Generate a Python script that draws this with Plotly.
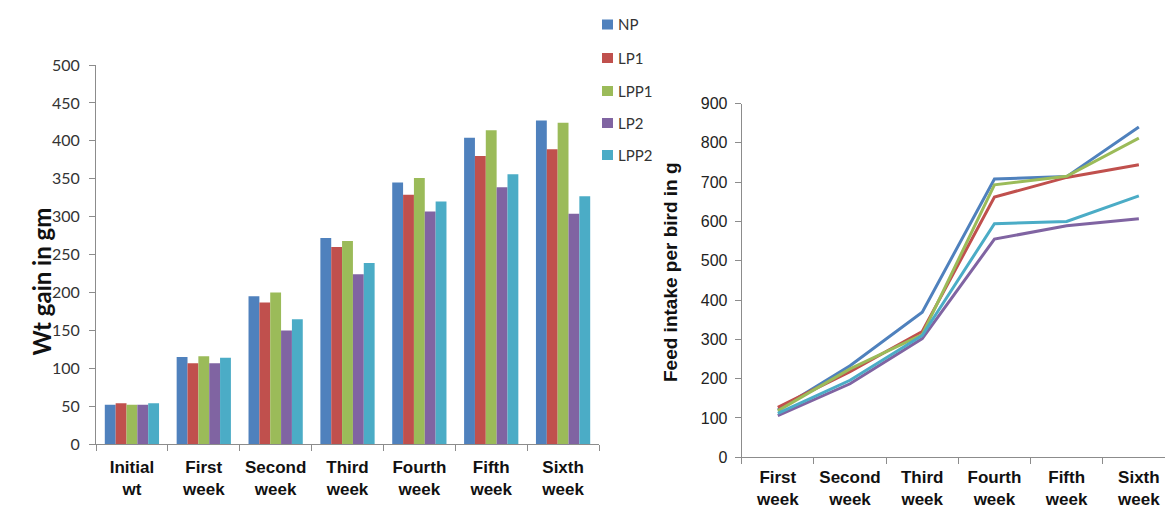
import plotly.graph_objects as go

# ---- data ----
series_names = ["NP", "LP1", "LPP1", "LP2", "LPP2"]
series_colors = ["#4F81BD", "#C0504D", "#9BBB59", "#8064A2", "#4BACC6"]

gain_categories = ["Initial<br>wt", "First<br>week", "Second<br>week", "Third<br>week",
                   "Fourth<br>week", "Fifth<br>week", "Sixth<br>week"]
gain_np = [52, 115, 195, 272, 345, 404, 427]
gain_lp1 = [54, 107, 187, 260, 329, 380, 389]
gain_lpp1 = [52, 116, 200, 268, 351, 414, 424]
gain_lp2 = [52, 107, 150, 224, 307, 339, 304]
gain_lpp2 = [54, 114, 165, 239, 320, 356, 327]

feed_categories = ["First<br>week", "Second<br>week", "Third<br>week",
                   "Fourth<br>week", "Fifth<br>week", "Sixth<br>week"]
feed_np = [120, 233, 369, 708, 714, 840]
feed_lp1 = [127, 218, 320, 662, 712, 744]
feed_lpp1 = [118, 225, 312, 693, 715, 812]
feed_lp2 = [106, 187, 302, 555, 589, 607]
feed_lpp2 = [112, 196, 310, 594, 600, 665]

gain_values = [gain_np, gain_lp1, gain_lpp1, gain_lp2, gain_lpp2]
feed_values = [feed_np, feed_lp1, feed_lpp1, feed_lp2, feed_lpp2]

W, H = 1165, 509


def px_x(p):
    return p / W


def px_y(p):
    return (H - p) / H


fig = go.Figure()

# grouped bars: weight gain
for name, color, vals in zip(series_names, series_colors, gain_values):
    fig.add_trace(go.Bar(x=gain_categories, y=vals, name=name, marker_color=color,
                         marker_line_width=0, xaxis="x", yaxis="y", showlegend=False))

# lines: feed intake
for name, color, vals in zip(series_names, series_colors, feed_values):
    fig.add_trace(go.Scatter(x=feed_categories, y=vals, name=name, mode="lines",
                             line=dict(color=color, width=3), xaxis="x2", yaxis="y2",
                             showlegend=False))

axis_gray = "#8C8C8C"
tick_font_left = dict(family="Lato, Open Sans, sans-serif", size=16, color="#333333")
tick_font_right = dict(family="Liberation Sans, Arial, sans-serif", size=16, color="#222222")
cat_font = dict(family="Liberation Sans, Arial, sans-serif", size=17, color="#111111")

fig.update_layout(
    width=W, height=H,
    margin=dict(l=0, r=0, t=0, b=0, pad=0, autoexpand=False),
    paper_bgcolor="white", plot_bgcolor="white",
    showlegend=False,
    barmode="group", bargap=0.245, bargroupgap=0,
    xaxis=dict(domain=[px_x(96), px_x(599)], type="category",
               showline=True, linecolor=axis_gray, linewidth=1,
               ticks="outside", tickson="boundaries", ticklen=6, tickcolor=axis_gray,
               showgrid=False, tickfont=cat_font, tickprefix="<b>", ticksuffix="</b>",
               ticklabelstandoff=7, automargin=False, anchor="y"),
    yaxis=dict(domain=[px_y(444.3), px_y(65)], range=[0, 500], dtick=50,
               showline=True, linecolor=axis_gray, linewidth=1,
               ticks="outside", ticklen=6, tickcolor=axis_gray,
               showgrid=False, zeroline=False, tickfont=tick_font_left,
               ticklabelstandoff=6, automargin=False, anchor="x"),
    xaxis2=dict(domain=[px_x(741.7), 1.0], type="category", range=[-0.5, 5.362],
                showline=True, linecolor=axis_gray, linewidth=1,
                ticks="outside", tickson="boundaries", ticklen=6, tickcolor=axis_gray,
                showgrid=False, tickfont=cat_font, tickprefix="<b>", ticksuffix="</b>",
                ticklabelstandoff=4, automargin=False, anchor="y2"),
    yaxis2=dict(domain=[px_y(457.3), px_y(103.5)], range=[0, 900], dtick=100,
                showline=True, linecolor=axis_gray, linewidth=1,
                ticks="outside", ticklen=6, tickcolor=axis_gray,
                showgrid=False, zeroline=False, tickfont=tick_font_right,
                ticklabelstandoff=4, automargin=False, anchor="x2"),
)

# axis titles
fig.add_annotation(text="<b>Wt gain in gm</b>", textangle=-90, xref="paper", yref="paper",
                   x=px_x(24), y=px_y(282), showarrow=False,
                   font=dict(family="Lato, Open Sans, sans-serif", size=24, color="#111111"))
fig.add_annotation(text="<b>Feed intake per bird in g</b>", textangle=-90, xref="paper",
                   yref="paper", x=px_x(670), y=px_y(272), showarrow=False,
                   font=dict(family="Liberation Sans, Arial, sans-serif", size=19,
                             color="#111111"))

# legend for the series colours
legend_rows = [24.5, 58, 91, 123, 155]
for name, color, yc in zip(series_names, series_colors, legend_rows):
    fig.add_shape(type="rect", xref="paper", yref="paper",
                  x0=px_x(602), x1=px_x(613), y0=px_y(yc - 5), y1=px_y(yc + 5),
                  fillcolor=color, line_width=0)
    fig.add_annotation(text=name, xref="paper", yref="paper", x=px_x(616), y=px_y(yc),
                       xanchor="left", yanchor="middle", showarrow=False,
                       font=dict(family="Lato, Open Sans, sans-serif", size=15,
                                 color="#333333"))

fig.write_html("out.html")
